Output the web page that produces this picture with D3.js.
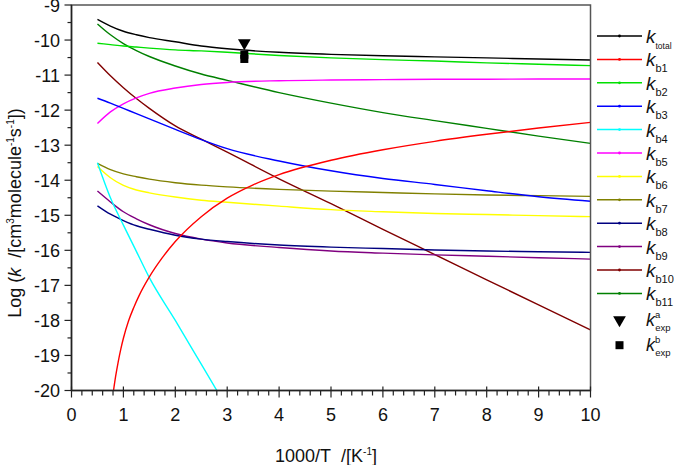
<!DOCTYPE html>
<html><head><meta charset="utf-8">
<script src="https://cdn.jsdelivr.net/npm/d3@7"></script>
<style>body{margin:0;background:#fff}svg{display:block;font-family:"Liberation Sans",Arial,sans-serif}</style>
</head><body><svg id="c" width="674" height="465"></svg>
<script>
// ---- data ----
const xs = [0.5, 0.75, 1, 1.25, 1.5, 2, 2.5, 3, 4, 5, 6, 7, 8, 9, 10];
const kTotal = [-9.41,-9.6,-9.75,-9.85,-9.93,-10.05,-10.17,-10.25,-10.35,-10.41,-10.45,-10.48,-10.51,-10.54,-10.57];
const kb2  = [-10.09,-10.13,-10.17,-10.2,-10.23,-10.28,-10.31,-10.35,-10.44,-10.51,-10.56,-10.6,-10.65,-10.69,-10.73];
const kb3  = [-11.66,-11.8,-11.95,-12.1,-12.25,-12.55,-12.84,-13.1,-13.45,-13.73,-13.95,-14.12,-14.3,-14.47,-14.6];
const kb4  = [-13.5,-14.5,-15.28,-16.03,-16.78,-18.0,-19.25,-20.5,null,null,null,null,null,null,null];
const kb5  = [-12.38,-12.05,-11.82,-11.65,-11.52,-11.37,-11.27,-11.21,-11.16,-11.14,-11.13,-11.12,-11.12,-11.11,-11.11];
const kb6  = [-13.61,-13.93,-14.15,-14.28,-14.36,-14.48,-14.57,-14.63,-14.74,-14.84,-14.9,-14.95,-14.98,-15.01,-15.04];
const kb7  = [-13.52,-13.7,-13.82,-13.9,-13.97,-14.07,-14.14,-14.19,-14.26,-14.31,-14.35,-14.39,-14.42,-14.44,-14.46];
const kb8  = [-14.73,-14.97,-15.15,-15.3,-15.4,-15.57,-15.68,-15.75,-15.85,-15.91,-15.95,-15.99,-16.02,-16.04,-16.06];
const kb9  = [-14.31,-14.62,-14.9,-15.1,-15.27,-15.52,-15.68,-15.79,-15.92,-16.02,-16.08,-16.13,-16.17,-16.21,-16.25];
const kb10 = [-10.64,-11.02,-11.36,-11.67,-11.95,-12.45,-12.83,-13.2,-13.96,-14.67,-15.4,-16.12,-16.84,-17.56,-18.27];
const kb11 = [-9.54,-9.85,-10.1,-10.3,-10.47,-10.74,-10.97,-11.15,-11.5,-11.8,-12.07,-12.3,-12.52,-12.74,-12.95];
const xsB1 = [0.8,0.85,0.9,0.95,1.0,1.1,1.2,1.3,1.5,1.75,2.0,2.5,3.0,3.5,4,5,6,7,8,9,10];
const kb1  = [-20.1,-19.6,-19.18,-18.82,-18.51,-18.01,-17.63,-17.3,-16.76,-16.21,-15.75,-15.04,-14.51,-14.13,-13.84,-13.43,-13.13,-12.89,-12.69,-12.51,-12.35];
const expX = [3.33];
const expA = [-10.08];
const expBx = [3.33, 3.33];
const expB = [-10.42, -10.54];
const seriesNames = ["total","b1","b2","b3","b4","b5","b6","b7","b8","b9","b10","b11"];
const seriesColors = ["#000000","#ff0000","#00e000","#0000ff","#00ffff","#ff00ff","#ffff00","#808000","#000080","#800080","#800000","#008000"];
const xTicks = [0,1,2,3,4,5,6,7,8,9,10];
const yTicks = [-9,-10,-11,-12,-13,-14,-15,-16,-17,-18,-19,-20];

// ---- chart ----
const svg = d3.select("#c");
const L = 71.5, R = 590.5, T = 5, B = 390.5;
const FS = 18;
const x = d3.scaleLinear().domain([0,10]).range([L,R]);
const y = d3.scaleLinear().domain([-20,-9]).range([B,T]);

svg.append("defs").append("clipPath").attr("id","clip")
  .append("rect").attr("x",L).attr("y",T).attr("width",R-L).attr("height",B-T);

const seriesData = [
  xs.map((d,i)=>[d,kTotal[i]]),
  xsB1.map((d,i)=>[d,kb1[i]]),
  xs.map((d,i)=>[d,kb2[i]]),
  xs.map((d,i)=>[d,kb3[i]]),
  xs.map((d,i)=>[d,kb4[i]]),
  xs.map((d,i)=>[d,kb5[i]]),
  xs.map((d,i)=>[d,kb6[i]]),
  xs.map((d,i)=>[d,kb7[i]]),
  xs.map((d,i)=>[d,kb8[i]]),
  xs.map((d,i)=>[d,kb9[i]]),
  xs.map((d,i)=>[d,kb10[i]]),
  xs.map((d,i)=>[d,kb11[i]])
];
const line = d3.line().defined(d=>d[1]!==null).x(d=>x(d[0])).y(d=>y(d[1])).curve(d3.curveMonotoneX);
const g = svg.append("g").attr("clip-path","url(#clip)");
seriesData.map((d,i)=>({d,i})).reverse().forEach(({d,i})=>{
  g.append("path").attr("d",line(d)).attr("fill","none")
    .attr("stroke",seriesColors[i]).attr("stroke-width",1.4);
});

// experimental markers
const tri = d3.symbol().type(d3.symbolTriangle).size(70);
expX.forEach((xv,i)=>{
  svg.append("path").attr("d",tri()).attr("transform",`translate(${x(xv)},${y(expA[i])}) rotate(180)`).attr("fill","#000");
});
expBx.forEach((xv,i)=>{
  svg.append("rect").attr("x",x(xv)-4).attr("y",y(expB[i])-4).attr("width",8).attr("height",8).attr("fill","#000");
});

// frame
svg.append("rect").attr("x",L).attr("y",T).attr("width",R-L).attr("height",B-T)
  .attr("fill","none").attr("stroke","#555").attr("stroke-width",1.5);

// ticks
const ax = svg.append("g").attr("stroke","#222").attr("stroke-width",1.2);
d3.range(0,10.001,0.2).forEach(v=>{
  const major = Math.abs(v-Math.round(v))<1e-6;
  ax.append("line").attr("x1",x(v)).attr("x2",x(v))
    .attr("y1",major?B-4:B).attr("y2",major?B+7:B+5);
});
d3.range(-20,-8.999,0.5).forEach(v=>{
  const major = Math.abs(v-Math.round(v))<1e-6;
  ax.append("line").attr("y1",y(v)).attr("y2",y(v))
    .attr("x1",major?L-7:L-4).attr("x2",L);
});
svg.append("line").attr("x1",L).attr("x2",R).attr("y1",B).attr("y2",B).attr("stroke","#222").attr("stroke-width",1.5);
svg.append("line").attr("x1",L).attr("x2",L).attr("y1",T).attr("y2",B).attr("stroke","#222").attr("stroke-width",1.5);

svg.append("g").selectAll("text").data(xTicks).join("text")
  .attr("x",d=>x(d)).attr("y",421).attr("text-anchor","middle")
  .attr("font-size",FS).attr("fill","#111").text(d=>d);
svg.append("g").selectAll("text").data(yTicks).join("text")
  .attr("x",60).attr("y",d=>y(d)+6.5).attr("text-anchor","end")
  .attr("font-size",FS).attr("fill","#111").text(d=>d);

// axis titles
const xt = svg.append("text").attr("x",326).attr("y",462).attr("text-anchor","middle").attr("font-size",FS).attr("fill","#111");
xt.append("tspan").text("1000/T\u00a0\u00a0/[K");
xt.append("tspan").attr("dy",-7).attr("font-size",10).text("-1");
xt.append("tspan").attr("dy",7).text("]");

const yt = svg.append("text").attr("transform","translate(21,213) rotate(-90)").attr("text-anchor","middle").attr("font-size",FS).attr("fill","#111");
yt.append("tspan").text("Log (");
yt.append("tspan").attr("font-style","italic").text("k");
yt.append("tspan").text("\u00a0\u00a0/[cm");
yt.append("tspan").attr("dy",-7).attr("font-size",10).text("3");
yt.append("tspan").attr("dy",7).text("molecule");
yt.append("tspan").attr("dy",-7).attr("font-size",10).text("-1");
yt.append("tspan").attr("dy",7).text("s");
yt.append("tspan").attr("dy",-7).attr("font-size",10).text("-1");
yt.append("tspan").attr("dy",7).text("])");

// legend
const lg = svg.append("g");
const rowY = i => 36 + i*23.4;
seriesNames.forEach((n,i)=>{
  const yy = rowY(i);
  lg.append("line").attr("x1",597).attr("x2",642).attr("y1",yy).attr("y2",yy)
    .attr("stroke",seriesColors[i]).attr("stroke-width",1.5);
  lg.append("circle").attr("cx",619.5).attr("cy",yy).attr("r",1.4).attr("fill",seriesColors[i]);
  const t = lg.append("text").attr("x",646).attr("y",yy+7).attr("font-size",19).attr("fill","#111");
  t.append("tspan").attr("font-style","italic").text("k");
  t.append("tspan").attr("dy",6).attr("font-size",n==="total"?8.5:11).text(n);
});
const yA = rowY(12)+3, yB = rowY(13)+5;
lg.append("path").attr("d",tri()).attr("transform",`translate(619.5,${yA}) rotate(180)`).attr("fill","#000");
lg.append("rect").attr("x",615.5).attr("y",yB-4).attr("width",8).attr("height",8).attr("fill","#000");
[["a",yA],["b",yB]].forEach(([s,yy])=>{
  const t = lg.append("text").attr("x",646).attr("y",yy+6).attr("font-size",18).attr("fill","#111");
  t.append("tspan").attr("font-style","italic").text("k");
  t.append("tspan").attr("dy",-8).attr("font-size",9.5).text(s);
  t.append("tspan").attr("dx",-5).attr("dy",13).attr("font-size",9.5).text("exp");
});
</script></body></html>
